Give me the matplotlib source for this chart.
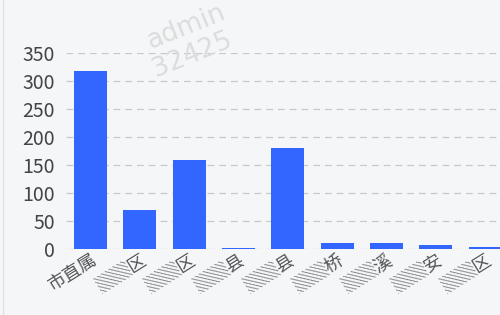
import matplotlib.pyplot as plt
from matplotlib.lines import Line2D

# data (labels partly masked in the original)
labels = ["市直属", "▒▒区", "▒▒区", "▒▒县", "▒▒县", "▒▒桥", "▒▒溪", "▒▒安", "▒▒区"]
values = [318, 70, 158, 1, 180, 10, 10, 7, 3]
yticks = [0, 50, 100, 150, 200, 250, 300, 350]

plt.rcParams['font.family'] = ['Noto Sans CJK SC', 'DejaVu Sans']

bg = "#f5f6f8"
fig = plt.figure(figsize=(5, 3.15), dpi=100, facecolor=bg)
ax = fig.add_axes([0.132, 0.2095, 0.868, 0.6225], facecolor=bg)

x = list(range(len(values)))
ax.bar(x, values, width=0.67, color="#3366ff", zorder=3)

ax.set_ylim(0, 350)
ax.set_xlim(-0.5, 8.3)
ax.set_yticks(yticks)
ax.set_yticklabels([str(v) for v in yticks], fontsize=14, color="#444444")
ax.set_xticks(x)
ax.set_xticklabels(labels, fontsize=13, color="#555555", rotation=32,
                   ha='right', va='top', rotation_mode='anchor')
ax.tick_params(axis='y', length=0, pad=8)
ax.tick_params(axis='x', length=0, pad=2)
ax.grid(axis='y', color="#c8c8c8", linestyle=(0, (5.4, 4.0)), linewidth=0.9, zorder=0)
for s in ax.spines.values():
    s.set_visible(False)

# thin left border of the panel
fig.add_artist(Line2D([0.006, 0.006], [0, 1], color="#e2e2e2", lw=1))

# watermark
fig.text(0.372, 0.915, "admin", fontsize=19, color="#dcdcdc", rotation=22,
         ha='center', va='center', family='DejaVu Sans')
fig.text(0.385, 0.825, "32425", fontsize=19, color="#dcdcdc", rotation=22,
         ha='center', va='center', family='DejaVu Sans')

fig.savefig("out.png", dpi=100, facecolor=bg)
